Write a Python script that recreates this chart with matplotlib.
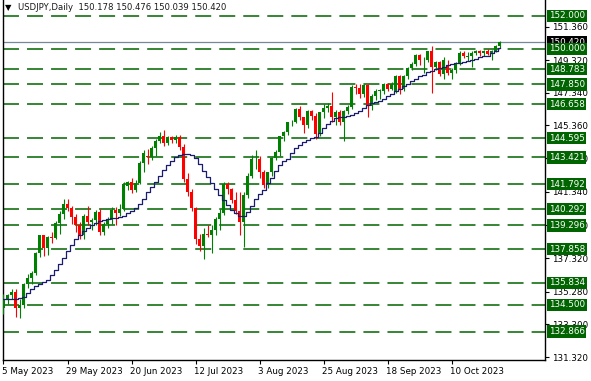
import matplotlib
matplotlib.use("Agg")
import matplotlib.pyplot as plt
import matplotlib.transforms as mtransforms
import numpy as np

# daily candles, 5 May 2023 .. 26 Oct 2023
opens = [134.30, 134.82, 135.07, 135.25, 134.30, 134.50, 135.73, 136.10, 136.40, 137.63,
         138.70, 137.95, 138.60, 138.55, 139.47, 140.00, 140.60, 140.38, 139.80, 139.30,
         138.75, 139.85, 139.50, 139.65, 140.10, 138.90, 139.40, 139.65, 140.25, 140.05,
         140.30, 141.70, 141.95, 141.45, 141.90, 143.10, 143.50, 143.45, 144.00, 144.45,
         144.70, 144.30, 144.65, 144.50, 144.65, 144.05, 142.10, 141.35, 140.35, 138.45,
         138.05, 138.80, 138.75, 139.05, 139.70, 140.05, 141.80, 141.50, 140.85, 140.15,
         139.50, 141.15, 142.30, 143.30, 143.35, 142.55, 141.76, 142.51, 143.37, 143.76,
         144.73, 144.95, 145.57, 145.59, 146.35, 145.85, 145.39, 146.24, 145.91, 144.83,
         146.15, 146.40, 146.53, 145.86, 146.19, 145.55, 146.22, 146.48, 147.71, 147.66,
         147.28, 147.84, 146.57, 147.13, 147.46, 147.48, 147.85, 147.60, 147.45, 148.37,
         147.58, 148.37, 148.86, 149.07, 149.61, 149.33, 149.36, 149.86, 148.90, 149.20,
         148.50, 149.00, 148.52, 148.71, 149.10, 149.77, 149.50, 149.60, 149.78, 149.85,
         149.75, 149.86, 149.68, 149.87, 150.178]
highs = [135.15, 135.15, 135.45, 135.45, 134.85, 135.80, 136.35, 136.55, 137.70, 138.75,
         138.75, 138.65, 138.90, 139.55, 140.20, 140.90, 140.93, 140.50, 140.00, 139.50,
         140.00, 140.50, 139.75, 140.25, 140.30, 139.50, 139.80, 140.40, 140.40, 140.60,
         141.95, 142.00, 142.20, 142.05, 143.20, 143.85, 143.95, 144.10, 144.55, 144.95,
         145.10, 144.75, 144.75, 144.80, 144.80, 144.25, 142.45, 141.50, 140.40, 138.80,
         139.15, 139.35, 139.30, 139.80, 140.30, 141.95, 141.95, 141.60, 141.30, 141.30,
         141.35, 142.50, 143.55, 143.90, 143.50, 142.65, 142.55, 143.45, 143.85, 144.75,
         145.05, 145.60, 145.70, 146.40, 146.55, 145.90, 146.30, 146.30, 146.10, 146.20,
         146.65, 146.75, 147.37, 146.30, 146.30, 146.30, 146.60, 147.80, 147.90, 147.85,
         147.90, 147.85, 147.30, 147.55, 147.60, 147.95, 147.95, 148.00, 148.45, 148.45,
         148.45, 148.90, 149.20, 149.70, 149.70, 149.50, 149.90, 150.16, 149.30, 149.30,
         149.50, 149.35, 148.85, 149.20, 149.85, 149.85, 149.80, 149.85, 149.95, 149.95,
         149.95, 150.00, 149.95, 150.25, 150.476]
lows = [133.90, 134.55, 134.85, 133.75, 133.70, 134.30, 135.50, 135.75, 136.30, 137.40,
        137.45, 137.50, 138.25, 138.45, 138.80, 139.70, 140.20, 139.40, 138.90, 138.45,
        138.45, 139.35, 139.00, 139.30, 138.75, 138.75, 139.15, 139.40, 139.30, 139.85,
        140.20, 141.45, 141.25, 141.30, 141.80, 142.55, 143.00, 143.25, 143.50, 144.30,
        144.10, 144.20, 144.30, 144.30, 143.85, 141.95, 141.10, 140.15, 138.20, 137.75,
        137.25, 138.60, 137.65, 138.75, 139.00, 139.95, 141.20, 140.65, 140.00, 138.70,
        138.00, 140.95, 142.20, 142.70, 142.20, 141.55, 141.55, 142.30, 143.25, 143.50,
        144.40, 144.80, 145.30, 145.50, 145.70, 144.90, 145.20, 145.70, 144.55, 144.70,
        145.80, 146.20, 145.60, 145.40, 145.40, 144.45, 146.05, 146.35, 147.25, 147.00,
        147.10, 145.90, 146.30, 146.90, 146.95, 147.30, 147.45, 147.50, 147.35, 147.30,
        147.45, 148.20, 148.70, 148.95, 149.05, 148.55, 149.20, 147.33, 148.70, 148.35,
        148.20, 148.45, 148.15, 148.55, 149.00, 149.45, 149.30, 148.90, 149.65, 149.60,
        149.60, 149.65, 149.35, 149.80, 150.039]
closes = [134.82, 135.07, 135.25, 134.30, 134.50, 135.73, 136.10, 136.40, 137.63, 138.70,
          137.95, 138.60, 138.55, 139.47, 140.00, 140.60, 140.38, 139.80, 139.30, 138.75,
          139.85, 139.50, 139.65, 140.10, 138.90, 139.40, 139.65, 140.25, 140.05, 140.30,
          141.82, 141.95, 141.45, 141.90, 143.10, 143.70, 143.45, 144.00, 144.45, 144.70,
          144.30, 144.65, 144.50, 144.65, 144.05, 142.10, 141.35, 140.35, 138.45, 138.05,
          138.80, 138.75, 139.05, 139.70, 140.05, 141.80, 141.50, 140.85, 140.15, 139.50,
          141.15, 142.30, 143.30, 143.35, 142.55, 141.76, 142.51, 143.37, 143.76, 144.73,
          144.95, 145.57, 145.59, 146.35, 145.85, 145.39, 146.24, 145.91, 144.83, 146.15,
          146.40, 146.53, 145.86, 146.19, 145.55, 146.22, 146.48, 147.71, 147.66, 147.28,
          147.84, 146.57, 147.13, 147.46, 147.48, 147.85, 147.60, 147.86, 148.37, 147.58,
          148.37, 148.86, 149.07, 149.61, 149.33, 149.36, 149.86, 148.90, 149.20, 148.50,
          149.35, 148.52, 148.71, 149.10, 149.77, 149.57, 149.60, 149.78, 149.85, 149.75,
          149.86, 149.68, 149.87, 150.18, 150.420]
moving_avg = [134.84, 134.84, 134.85, 134.86, 134.88, 134.98, 135.20, 135.42, 135.60, 135.75,
              135.88, 136.00, 136.30, 136.60, 136.95, 137.35, 137.75, 138.10, 138.45, 138.70,
              138.95, 139.15, 139.30, 139.45, 139.55, 139.65, 139.72, 139.75, 139.75, 139.80,
              139.90, 140.05, 140.20, 140.35, 140.60, 140.90, 141.30, 141.65, 141.95, 142.30,
              142.65, 142.95, 143.20, 143.45, 143.60, 143.63, 143.63, 143.55, 143.40, 143.00,
              142.60, 142.25, 141.85, 141.50, 141.15, 140.85, 140.55, 140.25, 140.05, 139.88,
              139.90, 140.10, 140.50, 140.90, 141.20, 141.45, 141.85, 142.20, 142.60, 142.95,
              143.20, 143.35, 143.70, 144.00, 144.20, 144.36, 144.48, 144.58, 144.66, 144.90,
              145.20, 145.45, 145.65, 145.80, 145.85, 145.88, 145.95, 146.02, 146.10, 146.25,
              146.45, 146.60, 146.70, 146.78, 146.85, 146.95, 147.15, 147.30, 147.45, 147.60,
              147.75, 147.90, 148.05, 148.20, 148.35, 148.45, 148.58, 148.68, 148.78, 148.85,
              148.93, 149.00, 149.06, 149.12, 149.18, 149.23, 149.30, 149.35, 149.42, 149.50,
              149.55, 149.57, 149.75, 149.90, 150.05]

levels = [152.000, 150.000, 148.783, 147.850, 146.658, 144.595, 143.421, 141.792,
          140.292, 139.296, 137.858, 135.834, 134.500, 132.866]
price_ticks = [151.36, 149.32, 147.34, 145.36, 143.38, 141.34, 139.30, 137.32, 135.28,
               133.30, 131.32]
date_ticks = [0, 16, 32, 48, 64, 80, 96, 112]
date_labels = ["5 May 2023", "29 May 2023", "20 Jun 2023", "12 Jul 2023", "3 Aug 2023",
               "25 Aug 2023", "18 Sep 2023", "10 Oct 2023"]
last_price = 150.420

BULL = "#008000"
BEAR = "#ff0000"
LEVEL = "#006400"
MA_COLOR = "#1c1c6e"

plt.rcParams["font.family"] = "DejaVu Sans"
plt.rcParams["lines.scale_dashes"] = False

W, H = 591, 381
fig = plt.figure(figsize=(W / 100, H / 100), dpi=100)
fig.patch.set_facecolor("white")
ax = fig.add_axes([3 / W, 21 / H, 542 / W, 360 / H])

o = np.array(opens)
c = np.array(closes)
x = np.arange(len(c))
up = c >= o
colors = np.where(up, BULL, BEAR)

for level in levels:
    ax.axhline(level, color=LEVEL, lw=1.1, ls=(0, (11.5, 5.8)), zorder=1)

ax.axhline(last_price, color="#778899", lw=0.9, zorder=2)

ax.vlines(x, lows, highs, colors=colors, lw=0.8, zorder=3)
body = np.maximum(np.abs(c - o), 0.03)
ax.bar(x, body, bottom=np.minimum(o, c), width=0.72, color=colors, linewidth=0, zorder=4)

ax.plot(x, moving_avg, color=MA_COLOR, lw=0.9, drawstyle="steps-mid", zorder=5)

ax.set_xlim(-0.125, 135.375)
ax.set_ylim(131.14, 152.97)

for side in ["left", "bottom", "right"]:
    ax.spines[side].set_color("black")
    ax.spines[side].set_linewidth(1.0)
ax.spines["top"].set_visible(False)

ax.yaxis.tick_right()
ax.set_yticks(price_ticks)
ax.set_yticklabels([f"{v:.3f}" for v in price_ticks])
ax.tick_params(axis="y", direction="out", length=3, width=0.8, pad=2, labelsize=6.3,
               colors="black")

ax.set_xticks(date_ticks)
ax.set_xticklabels(date_labels)
ax.tick_params(axis="x", direction="out", length=3, width=0.8, pad=2, labelsize=6.3,
               colors="black")
offset = mtransforms.ScaledTranslation(-1 / 100, 0, fig.dpi_scale_trans)
for lab in ax.get_xticklabels():
    lab.set_horizontalalignment("left")
    lab.set_transform(lab.get_transform() + offset)

# price labels on the right: current price in black, levels in green
trans = mtransforms.blended_transform_factory(ax.transAxes, ax.transData)
box_x = 1 + 4 / 542
ax.text(box_x, last_price, f"{last_price:.3f}", transform=trans, ha="left", va="center",
        fontsize=6.3, color="white", zorder=10, clip_on=False,
        bbox=dict(boxstyle="square,pad=0.18", fc="black", ec="none"))
for level in levels:
    ax.text(box_x, level, f"{level:.3f}", transform=trans, ha="left", va="center",
            fontsize=6.3, color="white", zorder=11, clip_on=False,
            bbox=dict(boxstyle="square,pad=0.18", fc=LEVEL, ec="none"))

fig.text(5 / W, 1 - 8 / H, "\u25bc", fontsize=6, color="black", va="center", ha="left")
fig.text(18 / W, 1 - 8 / H, "USDJPY,Daily  150.178 150.476 150.039 150.420",
         fontsize=6.1, color="#1a1a1a", va="center", ha="left")

fig.savefig("out.png", dpi=100, facecolor="white")
